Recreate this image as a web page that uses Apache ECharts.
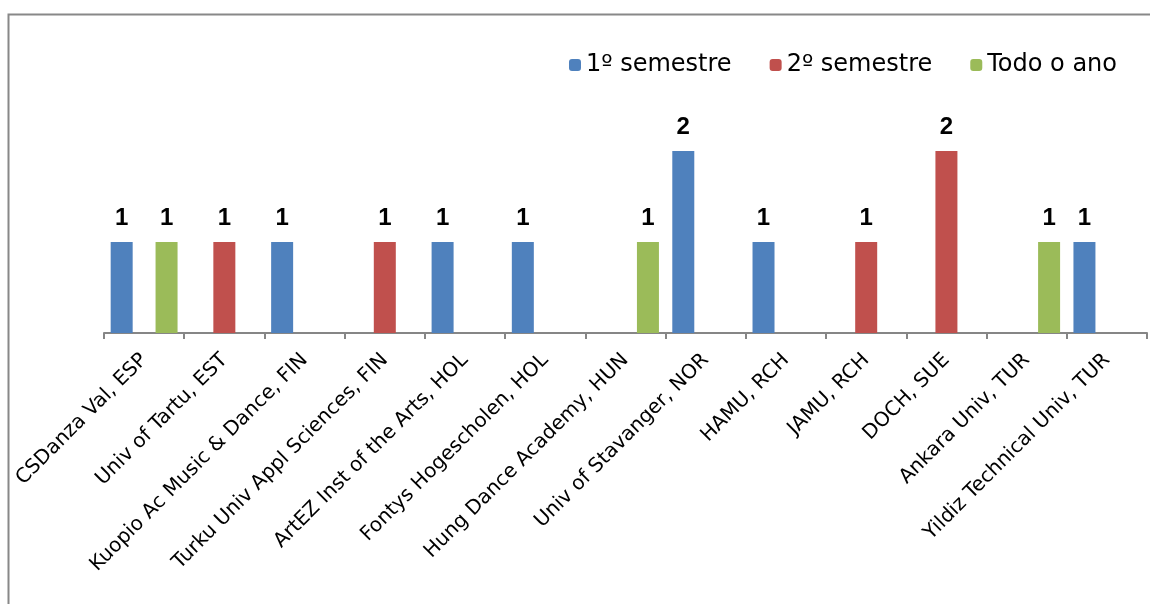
<!DOCTYPE html>
<html lang="en">
<head>
	<meta charset="UTF-8">
	<title>echarts</title>
	<script src="https://cdn.jsdelivr.net/npm/echarts@6/dist/echarts.min.js"></script>
</head>
<body style="margin:0;">
<div id="main" style="width: 1150px;height:604px;"></div>

<script type="text/javascript">
// categories and values
var schools = ['CSDanza Val, ESP', 'Univ of Tartu, EST', 'Kuopio Ac Music & Dance, FIN',
    'Turku Univ Appl Sciences, FIN', 'ArtEZ Inst of the Arts, HOL', 'Fontys Hogescholen, HOL',
    'Hung Dance Academy, HUN', 'Univ of Stavanger, NOR', 'HAMU, RCH', 'JAMU, RCH',
    'DOCH, SUE', 'Ankara Univ, TUR', 'Yildiz Technical Univ, TUR'];
var sem1 = [1, null, 1, null, 1, 1, null, 2, 1, null, null, null, 1];
var sem2 = [null, 1, null, 1, null, null, null, null, null, 1, 2, null, null];
var todoAno = [1, null, null, null, null, null, 1, null, null, null, null, 1, null];

var fontName = 'DejaVu Sans';

function barSeries(name, data, color) {
    return {
        name: name,
        type: 'bar',
        data: data,
        barWidth: 22,
        barGap: '2%',
        itemStyle: { color: color },
        label: {
            show: true,
            position: 'top',
            distance: 12,
            color: '#000',
            fontFamily: 'Liberation Sans',
            fontWeight: 'bold',
            fontSize: 24
        }
    };
}

var myChart = echarts.init(document.getElementById('main'));
var option = {
    animation: false,
    backgroundColor: '#fff',
    graphic: [{
        type: 'rect',
        shape: { x: 8.5, y: 14.5, width: 1160, height: 600 },
        style: { fill: 'none', stroke: '#888', lineWidth: 2 }
    }],
    legend: {
        right: 28,
        top: 48,
        itemWidth: 12,
        itemHeight: 12,
        itemGap: 38,
        textStyle: { fontFamily: fontName, fontSize: 24, color: '#000' },
        data: ['1º semestre', '2º semestre', 'Todo o ano']
    },
    grid: { left: 104, right: 3, top: 60, bottom: 271 },
    xAxis: {
        type: 'category',
        data: schools,
        axisLine: { lineStyle: { color: '#868686', width: 2 } },
        axisTick: { show: true, length: 6, lineStyle: { color: '#868686', width: 2 } },
        axisLabel: {
            rotate: 45,
            margin: 24,
            interval: 0,
            color: '#000',
            fontFamily: fontName,
            fontSize: 20
        }
    },
    yAxis: {
        type: 'value',
        min: 0,
        max: 3,
        show: false,
        splitLine: { show: false }
    },
    series: [
        barSeries('1º semestre', sem1, '#4F81BD'),
        barSeries('2º semestre', sem2, '#C0504D'),
        barSeries('Todo o ano', todoAno, '#9BBB59')
    ]
};
myChart.setOption(option);
</script>

</body>
</html>
